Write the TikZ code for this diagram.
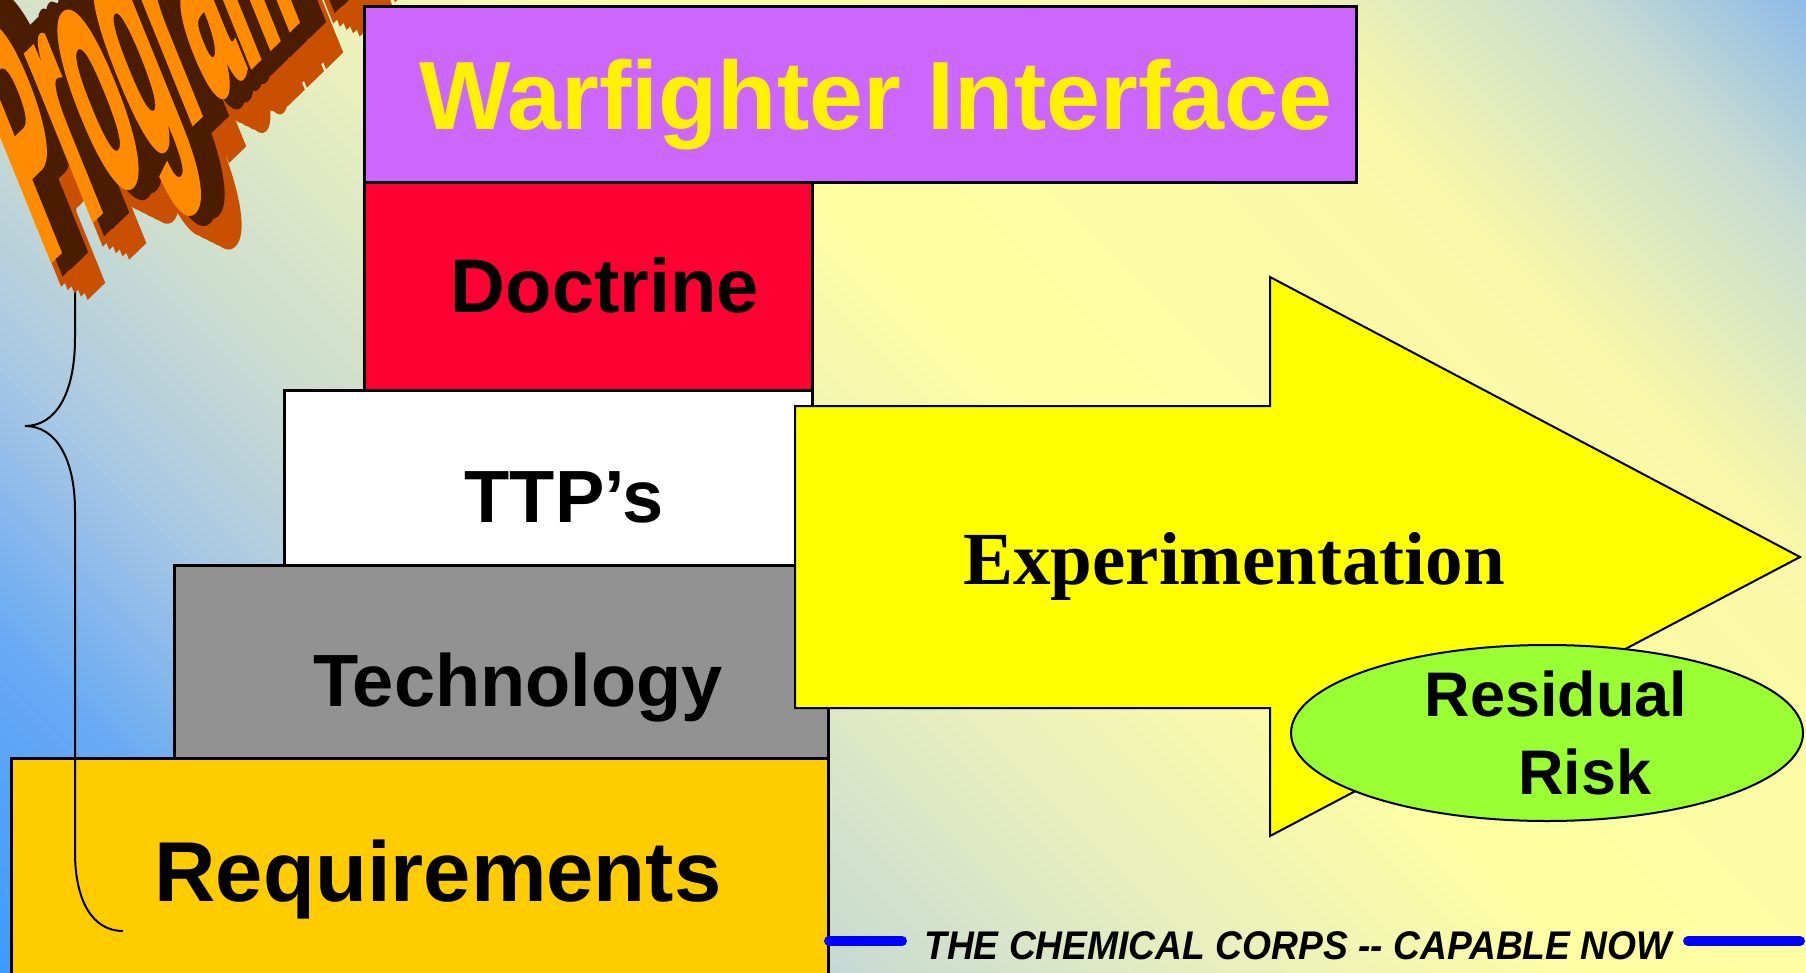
\documentclass[tikz,border=0pt]{standalone}
\usepackage{fontspec}
\setmainfont{Liberation Sans}
\newfontfamily\timesbold{Liberation Serif}
\newfontface\progshadow[FakeBold=14]{Liberation Sans Bold}
\newfontface\progfrontface[FakeBold=3]{Liberation Sans Bold}
\usetikzlibrary{shapes.geometric}
\definecolor{bg0}{HTML}{3D9BFF}
\definecolor{bg1}{HTML}{6AAAF4}
\definecolor{bg2}{HTML}{A8C8E4}
\definecolor{bg3}{HTML}{CCDDD0}
\definecolor{bg4}{HTML}{EAF0BC}
\definecolor{bg5}{HTML}{FFFFA2}
\definecolor{bg6}{HTML}{F8F8A8}
\definecolor{bg7}{HTML}{C8DCD2}
\definecolor{bg8}{HTML}{90BCE8}
\pgfdeclarehorizontalshading{bgshade}{100bp}{color(0bp)=(bg0); color(14.64bp)=(bg0); color(23.13bp)=(bg1); color(30.2bp)=(bg2); color(37.27bp)=(bg3); color(46.46bp)=(bg4); color(55.65bp)=(bg5); color(71.21bp)=(bg6); color(79.69bp)=(bg7); color(85.36bp)=(bg8); color(100bp)=(bg8)}
\definecolor{wfcol}{HTML}{CC66FF}
\definecolor{doccol}{HTML}{FF0033}
\definecolor{techcol}{HTML}{929292}
\definecolor{reqcol}{HTML}{FFCC00}
\definecolor{expcol}{HTML}{FFFF00}
\definecolor{riskcol}{HTML}{99FF33}
\definecolor{mottoblue}{HTML}{0000FF}
\definecolor{progfront}{HTML}{FF8C00}
\definecolor{progbottom}{HTML}{C85000}
\definecolor{progside}{HTML}{4A1C00}
\begin{document}
\begin{tikzpicture}[x=1pt,y=-1pt]
\tikzset{
  boxnode/.style={draw=black, line width=3pt, inner sep=0pt, anchor=north west},
  boxlabel/.style={inner sep=0pt, anchor=base, text=black},
  progtext/.style={inner sep=0pt, anchor=base west, transform shape, font=\fontsize{100}{120}\progfrontface},
  progshade/.style={inner sep=0pt, anchor=base west, transform shape, font=\fontsize{100}{120}\progshadow},
  progmatrix/.style={cm={0.62,0.6,-1.23,3.04,(0,0)}},
  mottoline/.style={draw=mottoblue, line width=10pt, line cap=round},
}
\useasboundingbox (0,0) rectangle (1806,973);
\shade[shading=bgshade, shading angle=45] (0,0) rectangle (1806,973);

% stacked boxes
\node[boxnode, fill=reqcol, minimum width=817pt, minimum height=240pt] (req) at (10,757) {};
\node[boxnode, fill=techcol, minimum width=654pt, minimum height=193pt] (tech) at (173,564) {};
\node[boxnode, fill=white, minimum width=528pt, minimum height=175pt] (ttp) at (283,389) {};
\node[boxnode, fill=doccol, minimum width=448pt, minimum height=208pt] (doc) at (363,181) {};

% arrow
\draw[black, line width=2pt, fill=expcol, line join=miter] (795,406) -- (1270,406) -- (1270,277) -- (1800,557) -- (1270,836) -- (1270,708) -- (795,708) -- cycle;

% residual risk
\node[ellipse, draw=black, line width=2pt, fill=riskcol, minimum width=512pt, minimum height=176pt, inner sep=0pt] (risk) at (1547,733) {};

% labels
\node[boxlabel, font=\fontsize{76}{90}\selectfont\bfseries] (doctxt) at (605,313) {Doctrine};
\node[boxlabel, font=\fontsize{74}{90}\selectfont\bfseries] (ttptxt) at (564,522) {TTP’s};
\node[boxlabel, font=\fontsize{74}{90}\selectfont\bfseries] (techtxt) at (518,706) {Technology};
\node[boxlabel, font=\fontsize{85}{100}\selectfont\bfseries] (reqtxt) at (438,901) {Requirements};
\node[boxlabel, font=\fontsize{75}{90}\timesbold\bfseries] (exptxt) at (1234,584) {Experimentation};
\node[boxlabel, font=\fontsize{63}{76}\selectfont\bfseries] (risktxt1) at (1556,716) {Residual};
\node[boxlabel, font=\fontsize{63}{76}\selectfont\bfseries] (risktxt2) at (1585,794) {Risk};

% motto
\coordinate (ml1) at (829,941);
\coordinate (ml2) at (902,941);
\coordinate (mr1) at (1688,941);
\coordinate (mr2) at (1800,941);
\draw[mottoline] (ml1) -- (ml2);
\draw[mottoline] (mr1) -- (mr2);
\node[boxlabel, font=\fontsize{40}{48}\selectfont\bfseries\itshape] (motto) at (1298,959) {\scalebox{0.93}[1]{THE CHEMICAL CORPS -{}- CAPABLE NOW}};

% brace
\draw[black, line width=2pt] (75,-5) -- (75,338) .. controls (75,395) and (55,426) .. (25,426)
  .. controls (55,426) and (75,457) .. (75,511) -- (75,852) .. controls (75,900) and (92,931) .. (123,931);

% 3D word art
\foreach \k in {5,...,1} {
  \pgfmathsetmacro{\dx}{46+6.6*\k}
  \pgfmathsetmacro{\dy}{262+3.3*\k}
  \begin{scope}[shift={(\dx,\dy)}, progmatrix]
    \node[progshade, text=progbottom] (pgb\k) at (0,0) {Program M};
  \end{scope}
}
\foreach \k in {2,1} {
  \pgfmathsetmacro{\dx}{46+8*\k}
  \pgfmathsetmacro{\dy}{262-7*\k}
  \begin{scope}[shift={(\dx,\dy)}, progmatrix]
    \node[progshade, text=progside] (pgs\k) at (0,0) {Program M};
  \end{scope}
}
\begin{scope}[shift={(46,262)}, progmatrix]
  \node[progtext, text=progfront] (pgf) at (0,0) {Program M};
\end{scope}

% top box
\node[boxnode, fill=wfcol, minimum width=992pt, minimum height=176pt] (wf) at (363,5) {};
\node[boxlabel, text=yellow, font=\fontsize{97}{110}\selectfont\bfseries] (wftxt) at (876,130) {Warfighter Interface};
\end{tikzpicture}
\end{document}
